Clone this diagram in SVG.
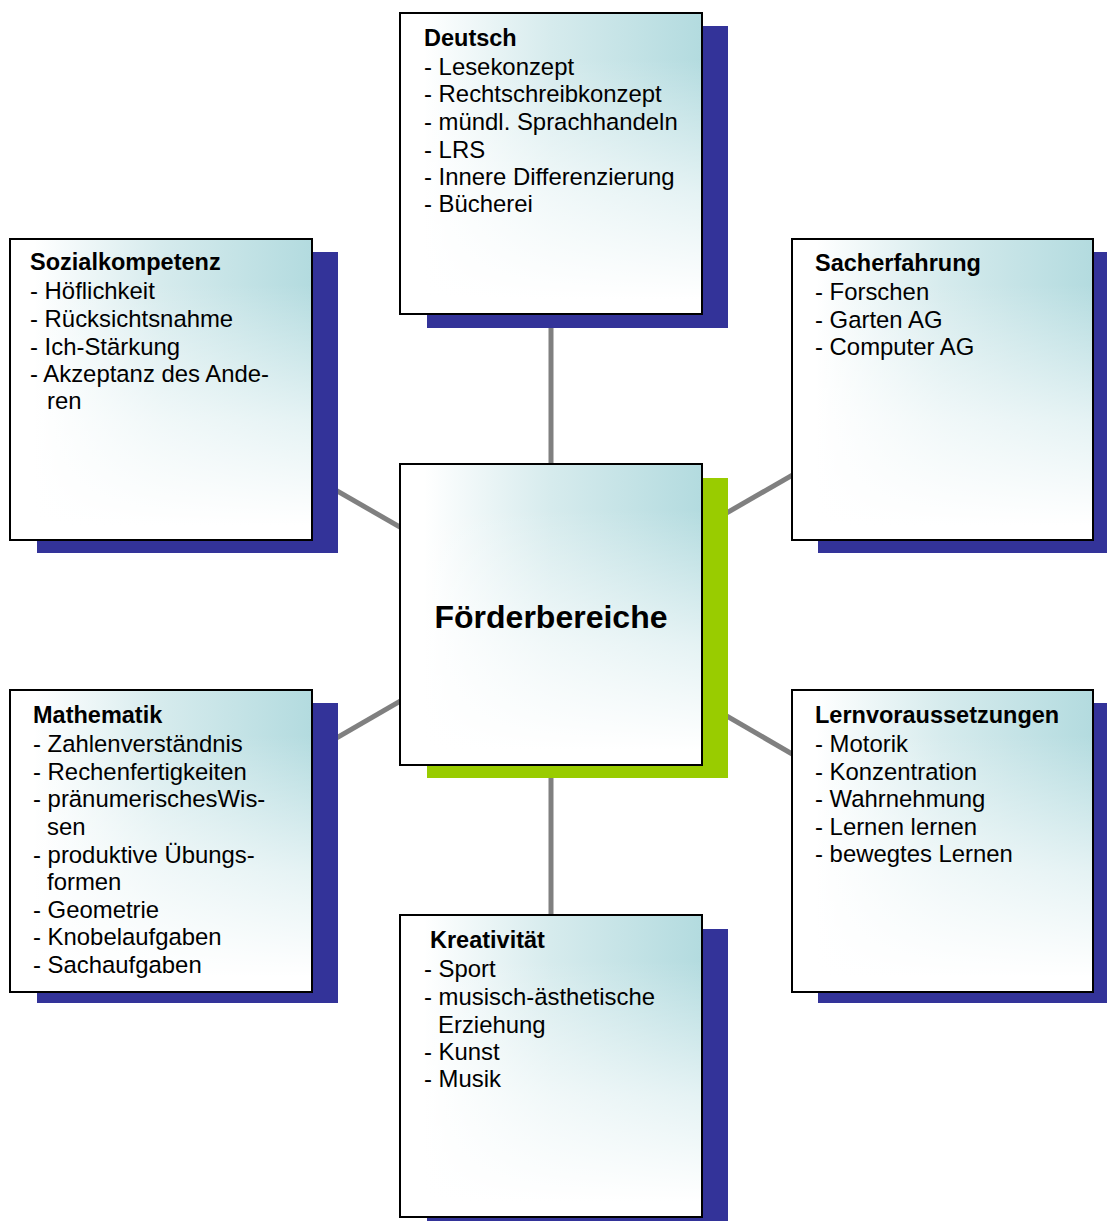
<svg xmlns="http://www.w3.org/2000/svg" width="1107" height="1221" viewBox="0 0 1107 1221">
<defs>
<linearGradient id="gh" x1="0" y1="0" x2="1" y2="0">
<stop offset="0.08" stop-color="#ffffff"/>
<stop offset="0.5" stop-color="#d6ebed"/>
<stop offset="1" stop-color="#b3dbdf"/>
</linearGradient>
<linearGradient id="gv" x1="0" y1="0" x2="0" y2="1">
<stop offset="0.15" stop-color="#ffffff" stop-opacity="0"/>
<stop offset="0.6" stop-color="#ffffff" stop-opacity="0.65"/>
<stop offset="0.95" stop-color="#ffffff" stop-opacity="1"/>
</linearGradient>
</defs>
<style>
.bg{fill:url(#gh)}
.box{fill:url(#gv);stroke:#000;stroke-width:2}
.sh{fill:#333399}
.shg{fill:#99cc00}
.con{stroke:#808080;stroke-width:5;fill:none}
text{font-family:"Liberation Sans",Arial,sans-serif;font-size:23.9px;fill:#000}
.t{font-weight:bold;font-size:23.5px}
.c{font-weight:bold;font-size:32px}
</style>
<rect width="1107" height="1221" fill="#fff"/>
<g id="connectors">
<line class="con" x1="551" y1="614" x2="551" y2="164"/>
<line class="con" x1="551" y1="614" x2="551" y2="1066"/>
<line class="con" x1="551" y1="614" x2="160" y2="389"/>
<line class="con" x1="551" y1="614" x2="160" y2="840"/>
<line class="con" x1="551" y1="614" x2="942" y2="389"/>
<line class="con" x1="551" y1="614" x2="942" y2="841"/>
</g>
<g id="deutsch">
<rect class="sh" x="427" y="26" width="301" height="302"/>
<rect class="bg" x="400" y="13" width="302" height="301"/>
<rect class="box" x="400" y="13" width="302" height="301"/>
<text><tspan class="t" x="424" y="46">Deutsch</tspan><tspan x="424" y="75">- Lesekonzept</tspan><tspan x="424" y="102">- Rechtschreibkonzept</tspan><tspan x="424" y="130">- mündl. Sprachhandeln</tspan><tspan x="424" y="158">- LRS</tspan><tspan x="424" y="185">- Innere Differenzierung</tspan><tspan x="424" y="212">- Bücherei</tspan></text>
</g>
<g id="sozialkompetenz">
<rect class="sh" x="37" y="252" width="301" height="301"/>
<rect class="bg" x="10" y="239" width="302" height="301"/>
<rect class="box" x="10" y="239" width="302" height="301"/>
<text><tspan class="t" x="30" y="270">Sozialkompetenz</tspan><tspan x="30" y="299">- Höflichkeit</tspan><tspan x="30" y="327">- Rücksichtsnahme</tspan><tspan x="30" y="355">- Ich-Stärkung</tspan><tspan x="30" y="382">- Akzeptanz des Ande-</tspan><tspan x="47" y="409">ren</tspan></text>
</g>
<g id="sacherfahrung">
<rect class="sh" x="818" y="252" width="289" height="301"/>
<rect class="bg" x="792" y="239" width="301" height="301"/>
<rect class="box" x="792" y="239" width="301" height="301"/>
<text><tspan class="t" x="815" y="271">Sacherfahrung</tspan><tspan x="815" y="300">- Forschen</tspan><tspan x="815" y="328">- Garten AG</tspan><tspan x="815" y="355">- Computer AG</tspan></text>
</g>
<g id="mathematik">
<rect class="sh" x="37" y="703" width="301" height="300"/>
<rect class="bg" x="10" y="690" width="302" height="302"/>
<rect class="box" x="10" y="690" width="302" height="302"/>
<text><tspan class="t" x="33" y="723">Mathematik</tspan><tspan x="33" y="752">- Zahlenverständnis</tspan><tspan x="33" y="780">- Rechenfertigkeiten</tspan><tspan x="33" y="807">- pränumerischesWis-</tspan><tspan x="47" y="835">sen</tspan><tspan x="33" y="863">- produktive Übungs-</tspan><tspan x="47" y="890">formen</tspan><tspan x="33" y="918">- Geometrie</tspan><tspan x="33" y="945">- Knobelaufgaben</tspan><tspan x="33" y="973">- Sachaufgaben</tspan></text>
</g>
<g id="lernvoraussetzungen">
<rect class="sh" x="818" y="703" width="289" height="300"/>
<rect class="bg" x="792" y="690" width="301" height="302"/>
<rect class="box" x="792" y="690" width="301" height="302"/>
<text><tspan class="t" x="815" y="723">Lernvoraussetzungen</tspan><tspan x="815" y="752">- Motorik</tspan><tspan x="815" y="780">- Konzentration</tspan><tspan x="815" y="807">- Wahrnehmung</tspan><tspan x="815" y="835">- Lernen lernen</tspan><tspan x="815" y="862">- bewegtes Lernen</tspan></text>
</g>
<g id="kreativitaet">
<rect class="sh" x="427" y="929" width="301" height="292"/>
<rect class="bg" x="400" y="915" width="302" height="302"/>
<rect class="box" x="400" y="915" width="302" height="302"/>
<text><tspan class="t" x="430" y="948">Kreativität</tspan><tspan x="424" y="977">- Sport</tspan><tspan x="424" y="1005">- musisch-ästhetische</tspan><tspan x="438" y="1033">Erziehung</tspan><tspan x="424" y="1060">- Kunst</tspan><tspan x="424" y="1087">- Musik</tspan></text>
</g>
<g id="foerderbereiche">
<rect class="shg" x="427" y="478" width="301" height="300"/>
<rect class="bg" x="400" y="464" width="302" height="301"/>
<rect class="box" x="400" y="464" width="302" height="301"/>
<text class="c" x="551" y="628" text-anchor="middle">Förderbereiche</text>
</g>
</svg>
